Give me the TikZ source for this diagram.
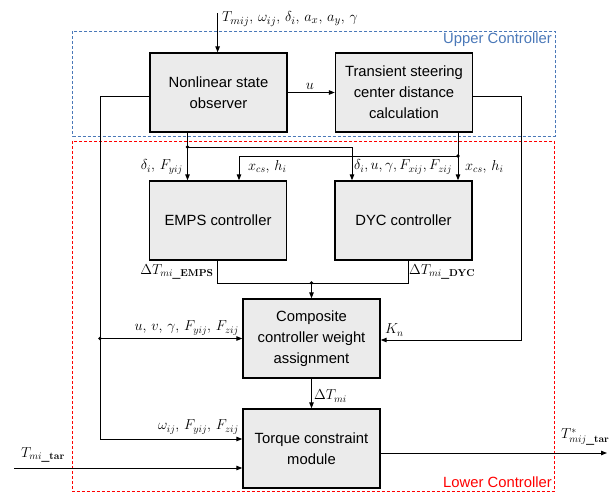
\documentclass[tikz,border=0pt]{standalone}
\usepackage[no-math]{fontspec}
\setmainfont{Liberation Sans}
\usetikzlibrary{arrows.meta,calc}
\definecolor{upblue}{HTML}{4A78B8}
\definecolor{boxgray}{HTML}{EBEBEB}
\begin{document}
\begin{tikzpicture}[x=1pt,y=-1pt,
  blk/.style={draw,line width=1.4pt,fill=boxgray,minimum width=137pt,minimum height=79pt,inner sep=0pt,align=center,font=\fontsize{14.8}{21}\selectfont},
  conn/.style={line width=1pt},
  arr/.style={line width=1pt,-{Triangle[length=6pt,width=4.5pt]}},
  lbl/.style={inner sep=0pt,font=\fontsize{14}{16}\selectfont},
  dot/.style={circle,fill,inner sep=0pt,minimum size=3.6pt}]
\useasboundingbox (0,0) rectangle (611,493);
% controller regions
\draw[upblue,line width=1pt,dash pattern=on 3pt off 2pt] (72.6,31) rectangle (555,136);
\draw[red,line width=1pt,dash pattern=on 3pt off 2pt] (72,141) rectangle (554,491.5);
\node[lbl,anchor=east,text=upblue,font=\fontsize{14.8}{16}\selectfont] (uc) at (552,40) {Upper Controller};
\node[lbl,anchor=east,text=red,font=\fontsize{14.8}{16}\selectfont] (lc) at (552,482) {Lower Controller};
% blocks
\node[blk] (nso) at (218.5,92.5) {Nonlinear state\\observer};
\node[blk] (tsc) at (404,92.5) {Transient steering\\center distance\\calculation};
\node[blk] (emps) at (218,220.5) {EMPS controller};
\node[blk] (dyc) at (403.5,220.5) {DYC controller};
\node[blk] (comp) at (311.5,338.5) {Composite\\controller weight\\assignment};
\node[blk] (torq) at (311.5,448.5) {Torque constraint\\module};
% coordinates
\coordinate (in) at (217.6,13);
\coordinate (lb) at (100,96);
\coordinate (rb) at (521,96);
\coordinate (j1) at (187.5,147);
\coordinate (j2) at (458,156);
\coordinate (e1) at (352,147);
\coordinate (e2) at (239,156);
\coordinate (oe) at (217,283);
\coordinate (od) at (408,283);
\coordinate (j3) at (311.5,283);
\coordinate (tin) at (14,468);
\coordinate (ts) at ([yshift=-4.5pt]torq.east);
\coordinate (tout) at (607,453);
% connectors
\draw[arr] (in) -- (in |- nso.north);
\draw[arr] (nso) -- (tsc);
\draw[conn] (nso.west |- lb) -- (lb);
\draw[arr] (lb) |- ([yshift=9.5pt]torq.west);
\draw[arr] (lb |- comp.west) -- (comp.west);
\draw[conn] (tsc.east |- rb) -- (rb);
\draw[arr] (rb) |- ([yshift=-1.5pt]comp.east);
\draw[arr] (j1 |- nso.south) -- (j1 |- emps.north);
\draw[arr] (j1) -- (e1) -- (e1 |- dyc.north);
\draw[arr] (j2 |- tsc.south) -- (j2 |- dyc.north);
\draw[arr] (j2) -- (e2) -- (e2 |- emps.north);
\draw[conn] (oe |- emps.south) -- (oe) -- (od) -- (od |- dyc.south);
\draw[arr] (j3) -- (comp.north);
\draw[arr] (comp) -- (torq);
\draw[arr] (tin) -- (tin -| torq.west);
\draw[arr] (ts) -- (tout |- ts);
\node[dot] (d1) at (j1) {};
\node[dot] (d2) at (j2) {};
\node[dot] (d3) at (j3) {};
\node[dot] (d4) at (lb |- comp.west) {};
% labels
\node[lbl,anchor=west,font=\fontsize{15}{16}\selectfont] (lin) at (222,19) {$T_{mij},\,\omega_{ij},\,\delta_i,\,a_x,\,a_y,\,\gamma$};
\node[lbl] (lu) at (310,86) {$u$};
\node[lbl,anchor=east] (l1) at (183,167) {$\delta_i,\,F_{yij}$};
\node[lbl,anchor=west] (l2) at (248,167) {$x_{cs},\,h_i$};
\node[lbl,anchor=west] (l3) at (354,167) {$\delta_i,u,\gamma,F_{xij},F_{zij}$};
\node[lbl,anchor=west] (l4) at (465,167) {$x_{cs},\,h_i$};
\node[lbl] (l5) at (177,272) {$\Delta T_{mi\_\mathbf{EMPS}}$};
\node[lbl,anchor=west] (l6) at (409,272) {$\Delta T_{mi\_\mathbf{DYC}}$};
\node[lbl,anchor=east] (l7) at (239,328) {$u,\,v,\,\gamma,\,F_{yij},\,F_{zij}$};
\node[lbl,anchor=west] (l8) at (385,330) {$K_n$};
\node[lbl,anchor=west] (l9) at (314,396) {$\Delta T_{mi}$};
\node[lbl,anchor=east] (l10) at (239,427) {$\omega_{ij},\,F_{yij},\,F_{zij}$};
\node[lbl,anchor=west] (l11) at (21,455) {$T_{mi\_\mathbf{tar}}$};
\node[lbl,anchor=west] (l12) at (561,437) {$T^{*}_{mij\_\mathbf{tar}}$};
\end{tikzpicture}
\end{document}
